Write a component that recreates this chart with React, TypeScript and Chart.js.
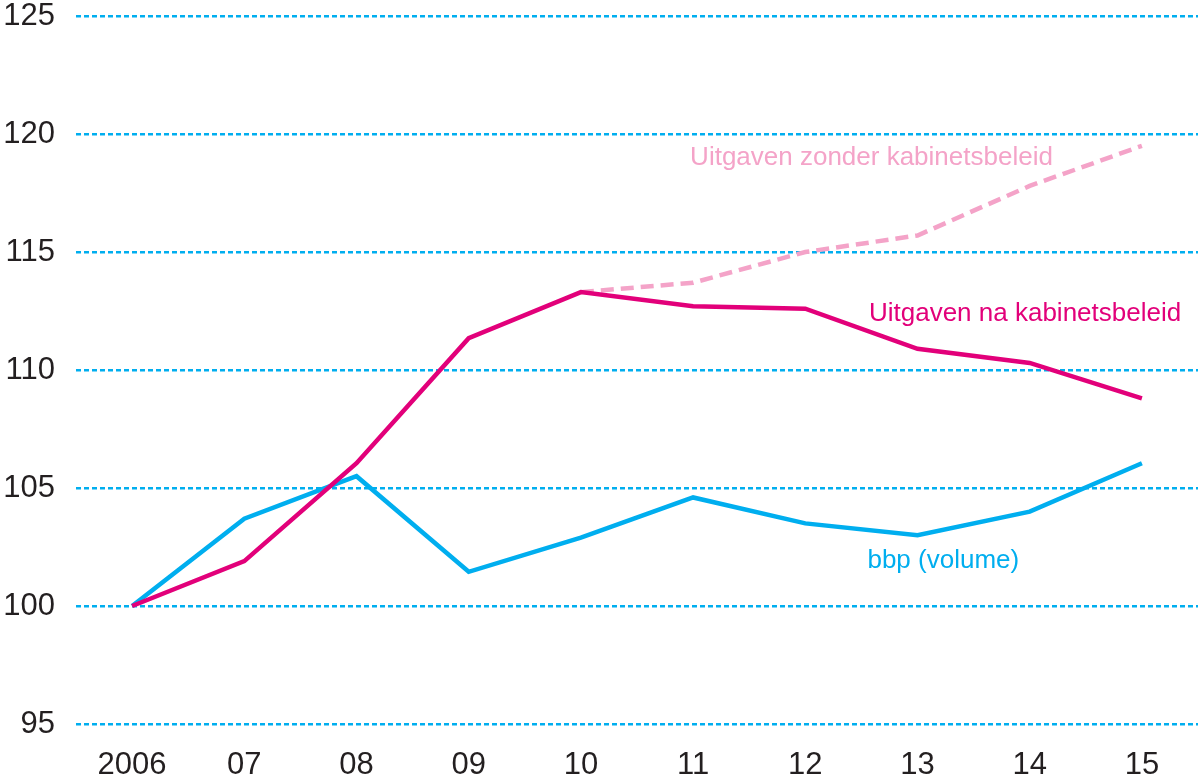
import React, { useEffect, useRef } from "react";
import { Chart, registerables } from "chart.js";

Chart.register(...registerables);

const categories = ["2006", "07", "08", "09", "10", "11", "12", "13", "14", "15"];
const uitgavenNa = [100, 101.9, 106.05, 111.35, 113.3, 112.7, 112.6, 110.9, 110.3, 108.8];
const uitgavenZonder = [null, null, null, null, 113.3, 113.7, 115.0, 115.7, 117.8, 119.5];
const bbp = [100, 103.7, 105.5, 101.45, 102.9, 104.6, 103.5, 103.0, 104.0, 106.05];

const CYAN = "#00AEEF";
const MAGENTA = "#E2007A";
const PINK = "#F4A3C8";

const seriesLabels = [
  { text: "Uitgaven zonder kabinetsbeleid", color: PINK, x: 6.59, y: 118.98, align: "center" },
  { text: "Uitgaven na kabinetsbeleid", color: MAGENTA, x: 9.35, y: 112.37, align: "right" },
  { text: "bbp (volume)", color: CYAN, x: 7.23, y: 101.9, align: "center" },
];

const labelPlugin = {
  id: "seriesLabels",
  afterDatasetsDraw(chart: any) {
    const { ctx, scales } = chart;
    ctx.save();
    ctx.font = "26px 'Liberation Sans', Arial, sans-serif";
    ctx.textBaseline = "middle";
    for (const l of seriesLabels) {
      ctx.fillStyle = l.color;
      ctx.textAlign = l.align;
      ctx.fillText(l.text, scales.x.getPixelForValue(l.x), scales.y.getPixelForValue(l.y));
    }
    ctx.restore();
  },
};

export default function App() {
  const ref = useRef<HTMLCanvasElement>(null);
  useEffect(() => {
    document.body.style.margin = "0";
    const chart = new Chart(ref.current as HTMLCanvasElement, {
      type: "line",
      data: {
        labels: categories,
        datasets: [
          {
            label: "Uitgaven na kabinetsbeleid",
            data: uitgavenNa,
            borderColor: MAGENTA,
            borderWidth: 4.5,
            pointRadius: 0,
            tension: 0,
          },
          {
            label: "bbp (volume)",
            data: bbp,
            borderColor: CYAN,
            borderWidth: 4.5,
            pointRadius: 0,
            tension: 0,
          },
          {
            label: "Uitgaven zonder kabinetsbeleid",
            data: uitgavenZonder as any,
            borderColor: PINK,
            borderWidth: 4.5,
            borderDash: [13, 7],
            pointRadius: 0,
            tension: 0,
          },
        ],
      },
      options: {
        animation: false,
        responsive: false,
        maintainAspectRatio: false,
        layout: { padding: { top: 16, right: 0, left: 0, bottom: 0 } },
        plugins: { legend: { display: false }, tooltip: { enabled: false } },
        scales: {
          x: {
            offset: true,
            grid: { display: false, drawTicks: false },
            border: { display: false },
            ticks: {
              color: "#231F20",
              font: { size: 31, family: "'Liberation Sans', Arial, sans-serif" },
              padding: 23,
              maxRotation: 0,
              autoSkip: false,
            },
            afterFit: (s: any) => {
              s.height = 57;
              s.paddingLeft = 0;
              s.paddingRight = 0;
            },
          },
          y: {
            min: 95,
            max: 125,
            grid: {
              color: CYAN,
              lineWidth: 2.5,
              drawTicks: false,
            },
            border: { display: false, dash: [5, 3] },
            ticks: {
              stepSize: 5,
              color: "#231F20",
              font: { size: 31, family: "'Liberation Sans', Arial, sans-serif" },
              padding: 21,
            },
            afterFit: (s: any) => {
              s.width = 76;
              s.paddingTop = 0;
              s.paddingBottom = 0;
            },
          },
        },
      },
      plugins: [labelPlugin],
    });
    return () => chart.destroy();
  }, []);
  return (
    <div style={{ width: 1198, height: 781, position: "relative" }}>
      <canvas ref={ref} width={1198} height={781} style={{ display: "block" }} />
    </div>
  );
}
